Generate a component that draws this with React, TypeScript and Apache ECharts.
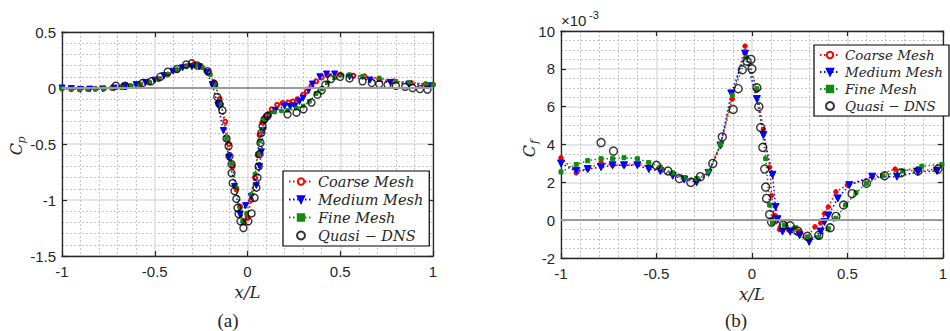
import React, { useEffect, useRef } from "react";
import * as echarts from "echarts";

// ---- Pressure coefficient Cp along x/L ----
const cpCoarseX = [-1.0, -0.95, -0.905, -0.86, -0.82, -0.775, -0.73, -0.68, -0.63, -0.58, -0.53, -0.48, -0.43, -0.38, -0.33, -0.29, -0.25, -0.21, -0.18, -0.15, -0.12, -0.1, -0.08, -0.06, -0.04, -0.02, 0.0, 0.02, 0.04, 0.055, 0.065, 0.08, 0.1, 0.13, 0.16, 0.19, 0.22, 0.245, 0.27, 0.3, 0.32, 0.345, 0.37, 0.4, 0.43, 0.5, 0.57, 0.63, 0.71, 0.79, 0.88, 0.96, 1.0];
const cpCoarseY = [-0.005, -0.01, -0.012, -0.01, -0.008, -0.005, 0.0, 0.008, 0.018, 0.032, 0.05, 0.08, 0.12, 0.16, 0.195, 0.21, 0.19, 0.14, 0.05, -0.1, -0.3, -0.5, -0.7, -0.9, -1.06, -1.2, -1.16, -1.0, -0.8, -0.6, -0.42, -0.31, -0.25, -0.19, -0.15, -0.135, -0.13, -0.12, -0.1, -0.06, -0.03, 0.02, 0.06, 0.095, 0.115, 0.12, 0.11, 0.105, 0.08, 0.06, 0.045, 0.035, 0.03];

const cpMediumX = [-1.0, -0.95, -0.9, -0.85, -0.78, -0.72, -0.66, -0.6, -0.55, -0.5, -0.45, -0.4, -0.35, -0.3, -0.26, -0.22, -0.19, -0.16, -0.13, -0.1, -0.07, -0.04, -0.01, 0.02, 0.048, 0.065, 0.075, 0.085, 0.097, 0.12, 0.15, 0.2, 0.23, 0.255, 0.28, 0.3, 0.33, 0.35, 0.39, 0.426, 0.47, 0.55, 0.66, 0.77, 0.87, 0.98];
const cpMediumY = [0.0, -0.005, -0.012, -0.01, -0.008, 0.0, 0.015, 0.03, 0.05, 0.07, 0.11, 0.15, 0.18, 0.19, 0.19, 0.14, 0.03, -0.15, -0.38, -0.62, -0.88, -1.13, -1.05, -0.97, -0.87, -0.7, -0.57, -0.38, -0.29, -0.24, -0.2, -0.16, -0.165, -0.16, -0.12, -0.09, -0.02, 0.035, 0.1, 0.125, 0.125, 0.1, 0.07, 0.05, 0.035, 0.02];

const cpFineX = [-1.0, -0.95, -0.905, -0.86, -0.82, -0.775, -0.73, -0.68, -0.63, -0.58, -0.53, -0.48, -0.43, -0.38, -0.33, -0.28, -0.24, -0.2, -0.17, -0.14, -0.113, -0.085, -0.06, -0.04, -0.027, -0.005, 0.02, 0.04, 0.054, 0.065, 0.08, 0.092, 0.12, 0.146, 0.183, 0.216, 0.264, 0.3, 0.334, 0.37, 0.4, 0.43, 0.47, 0.507, 0.55, 0.62, 0.71, 0.8, 0.87, 0.965, 1.0];
const cpFineY = [-0.005, -0.01, -0.012, -0.01, -0.008, -0.005, 0.0, 0.008, 0.018, 0.032, 0.05, 0.08, 0.12, 0.16, 0.19, 0.2, 0.18, 0.12, 0.02, -0.15, -0.45, -0.68, -0.89, -1.07, -1.19, -1.12, -0.95, -0.77, -0.59, -0.47, -0.37, -0.28, -0.23, -0.215, -0.205, -0.2, -0.18, -0.16, -0.12, -0.05, -0.01, 0.045, 0.09, 0.115, 0.12, 0.105, 0.09, 0.06, 0.05, 0.035, 0.03];

const cpDnsX = [-0.71, -0.66, -0.565, -0.52, -0.47, -0.43, -0.38, -0.33, -0.3, -0.27, -0.215, -0.18, -0.163, -0.152, -0.135, -0.113, -0.102, -0.097, -0.086, -0.086, -0.08, -0.07, -0.06, -0.054, -0.048, -0.038, -0.022, 0.005, 0.022, 0.038, 0.048, 0.054, 0.06, 0.065, 0.07, 0.075, 0.081, 0.092, 0.108, 0.216, 0.264, 0.302, 0.345, 0.377, 0.4, 0.42, 0.45, 0.5, 0.55, 0.62, 0.67, 0.71, 0.755, 0.8, 0.85, 0.89, 0.93, 0.97];
const cpDnsY = [0.02, 0.02, 0.045, 0.06, 0.1, 0.145, 0.17, 0.21, 0.22, 0.2, 0.15, 0.035, -0.08, -0.14, -0.2, -0.45, -0.52, -0.61, -0.68, -0.76, -0.85, -0.92, -0.99, -1.07, -1.125, -1.19, -1.25, -1.19, -1.12, -0.98, -0.89, -0.8, -0.7, -0.59, -0.49, -0.4, -0.34, -0.28, -0.25, -0.235, -0.22, -0.19, -0.13, -0.06, -0.02, 0.03, 0.08, 0.1, 0.085, 0.06, 0.045, 0.035, 0.03, 0.02, 0.01, 0.0, -0.01, -0.015];

// ---- Skin friction coefficient Cf (x 10^-3) along x/L ----
const cfCoarseX = [-1.0, -0.92, -0.86, -0.79, -0.73, -0.67, -0.6, -0.54, -0.48, -0.415, -0.355, -0.29, -0.227, -0.165, -0.103, -0.036, 0.026, 0.06, 0.093, 0.103, 0.118, 0.144, 0.19, 0.247, 0.29, 0.33, 0.36, 0.38, 0.4, 0.44, 0.5, 0.63, 0.75, 0.87, 0.97];
const cfCoarseY = [3.3, 2.5, 2.7, 3.05, 2.9, 2.9, 2.95, 2.85, 2.7, 2.45, 2.2, 2.1, 2.55, 3.95, 6.4, 9.2, 6.9, 4.8, 2.8, 1.3, 0.25, -0.5, -0.5, -0.6, -0.9, -0.35, -0.15, 0.35, 0.7, 1.5, 1.85, 2.3, 2.7, 2.6, 2.7];

const cfMediumX = [-1.0, -0.92, -0.86, -0.79, -0.73, -0.67, -0.6, -0.54, -0.48, -0.415, -0.355, -0.29, -0.227, -0.165, -0.108, -0.036, 0.026, 0.06, 0.108, 0.124, 0.134, 0.16, 0.2, 0.25, 0.3, 0.36, 0.38, 0.4, 0.45, 0.51, 0.63, 0.76, 0.87, 0.97];
const cfMediumY = [3.0, 2.6, 2.7, 2.8, 2.9, 2.9, 2.9, 2.7, 2.6, 2.35, 2.15, 2.0, 2.5, 3.95, 6.7, 8.8, 6.4, 4.5, 2.4, 0.7, 0.05, -0.6, -0.6, -0.8, -1.15, -0.6, -0.1, 0.25, 1.15, 1.85, 2.3, 2.3, 2.55, 2.6];

const cfFineX = [-1.0, -0.92, -0.86, -0.79, -0.73, -0.67, -0.6, -0.54, -0.48, -0.415, -0.355, -0.29, -0.227, -0.165, -0.103, -0.03, 0.026, 0.072, 0.093, 0.108, 0.17, 0.23, 0.29, 0.35, 0.4, 0.44, 0.49, 0.545, 0.6, 0.685, 0.79, 0.89, 0.995];
const cfFineY = [2.55, 2.95, 3.15, 3.25, 3.25, 3.3, 3.25, 3.05, 2.8, 2.5, 2.25, 2.2, 2.55, 4.0, 6.6, 8.6, 6.95, 3.25, 0.8, -0.15, -0.25, -0.4, -0.9, -0.9, -0.45, 0.1, 0.8, 1.45, 1.95, 2.35, 2.6, 2.85, 2.95];

const cfDnsX = [-0.79, -0.725, -0.5, -0.44, -0.38, -0.32, -0.27, -0.205, -0.155, -0.098, -0.072, -0.05, -0.025, -0.005, 0.0, 0.026, 0.036, 0.046, 0.057, 0.067, 0.072, 0.077, 0.093, 0.103, 0.165, 0.2, 0.24, 0.29, 0.35, 0.41, 0.44, 0.48, 0.525, 0.6, 0.695, 0.78, 0.87, 0.975];
const cfDnsY = [4.1, 3.65, 2.9, 2.6, 2.2, 2.0, 2.3, 3.0, 4.4, 5.85, 6.95, 7.95, 8.4, 8.5, 8.0, 7.0, 6.0, 4.9, 3.85, 2.7, 1.75, 1.15, 0.3, -0.1, -0.26, -0.3, -0.58, -0.85, -0.8, -0.4, 0.2, 0.8, 1.4, 1.95, 2.35, 2.5, 2.6, 2.7];

const seriesNames = ["Coarse Mesh", "Medium Mesh", "Fine Mesh", "Quasi \u2212 DNS"];
const xTicks = { min: -1, max: 1, interval: 0.5 };
const cpTicks = { min: -1.5, max: 0.5, interval: 0.5 };
const cfTicks = { min: -2, max: 10, interval: 2 };

const RED = "#ff0000";
const BLUE = "#0000ff";
const GREEN = "#128a12";
const INK = "#262626";
const SANS = "Liberation Sans";
const SERIF = "DejaVu Serif";
const DOWN_TRIANGLE = "path://M0,0L10,0L5,9Z";

const zip = (xs: number[], ys: number[]) => xs.map((x, i) => [x, ys[i]]);

const frameLine = { show: true, onZero: false, lineStyle: { color: INK, width: 1.3 } };
const innerTick = { show: true, inside: true, length: 5, lineStyle: { color: INK, width: 1.2 } };
const minorGrid = { show: true, lineStyle: { color: "#c4c4c4", type: [2, 2], width: 1 } };
const majorGrid = { show: true, lineStyle: { color: "#dedede", width: 1.5 } };
const tickFont = { fontFamily: SANS, fontSize: 15, color: INK };

function bottomAxis(gridIndex: number) {
  return {
    type: "value", gridIndex, position: "bottom", ...xTicks,
    axisLine: frameLine, axisTick: innerTick,
    axisLabel: { ...tickFont, margin: 8 },
    splitLine: majorGrid,
    minorTick: { show: false, splitNumber: 5 },
    minorSplitLine: minorGrid,
    name: "x/L", nameLocation: "middle", nameGap: 27,
    nameTextStyle: { fontFamily: SERIF, fontStyle: "italic", fontSize: 16.5, color: INK },
  };
}
function topAxis(gridIndex: number) {
  return {
    type: "value", gridIndex, position: "top", ...xTicks,
    axisLine: frameLine, axisTick: innerTick,
    axisLabel: { show: false }, splitLine: { show: false },
  };
}
function leftAxis(gridIndex: number, ticks: any, minorSplit: number) {
  return {
    type: "value", gridIndex, position: "left", ...ticks,
    axisLine: frameLine, axisTick: innerTick,
    axisLabel: { ...tickFont, margin: 6 },
    splitLine: majorGrid,
    minorTick: { show: false, splitNumber: minorSplit },
    minorSplitLine: minorGrid,
  };
}
function rightAxis(gridIndex: number, ticks: any) {
  return {
    type: "value", gridIndex, position: "right", ...ticks,
    axisLine: frameLine, axisTick: innerTick,
    axisLabel: { show: false }, splitLine: { show: false },
  };
}

function simSeries(name: string, data: number[][], color: string, symbol: string, size: number, axis: number) {
  return {
    type: "line", name, data, xAxisIndex: axis, yAxisIndex: axis,
    symbol, symbolSize: size, showSymbol: true, color,
    lineStyle: { color, width: 1.5, type: [1.5, 2.5] },
    itemStyle: { color, borderColor: color, borderWidth: 1 },
    z: 3,
  };
}
function dnsSeries(data: number[][], axis: number, size: number) {
  return {
    type: "scatter", name: seriesNames[3], data, xAxisIndex: axis, yAxisIndex: axis,
    symbol: "circle", symbolSize: size,
    itemStyle: { color: "rgba(0,0,0,0)", borderColor: "#000", borderWidth: 1.4 },
    z: 4,
  };
}
function zeroLine(axis: number) {
  return {
    type: "line", name: "zero", data: [], xAxisIndex: axis, yAxisIndex: axis, z: 2,
    markLine: {
      silent: true, symbol: "none", label: { show: false },
      lineStyle: { color: "#9a9a9a", width: 2, type: "solid" },
      data: [{ yAxis: 0 }],
    },
  };
}
function legendBox(left: number, top: number, fontSize: number, itemWidth: number, lineHeight: number) {
  const face = { fontFamily: SERIF, fontStyle: "italic", fontSize, color: INK, lineHeight };
  return {
    left, top, orient: "vertical", data: seriesNames, selectedMode: false,
    backgroundColor: "#fff", borderColor: "#000", borderWidth: 1.2,
    padding: [2, 6, 2, 5], itemGap: 1, itemWidth, itemHeight: 8,
    formatter: (name: string) => `{t|${name}}`,
    textStyle: { ...face, rich: { t: face } },
  };
}
function subscriptLabel(x: number, y: number, main: string, sub: string) {
  return {
    type: "group", x, y, rotation: Math.PI / 2,
    children: [
      { type: "text", x: -4, y: 0, style: { text: main, fontFamily: SERIF, fontStyle: "italic", fontSize: 16, fill: INK, align: "center", verticalAlign: "middle" } },
      { type: "text", x: 5, y: 5, style: { text: sub, fontFamily: SERIF, fontStyle: "italic", fontSize: 11, fill: INK, align: "center", verticalAlign: "middle" } },
    ],
  };
}

const option: any = {
  animation: false,
  backgroundColor: "#fff",
  grid: [
    { left: 62, top: 32, width: 371, height: 224 },
    { left: 561, top: 31, width: 388, height: 227 },
  ],
  xAxis: [bottomAxis(0), bottomAxis(1), topAxis(0), topAxis(1)],
  yAxis: [leftAxis(0, cpTicks, 5), leftAxis(1, cfTicks, 4), rightAxis(0, cpTicks), rightAxis(1, cfTicks)],
  legend: [legendBox(283, 171, 14.5, 24, 17), legendBox(814, 45, 13.5, 20, 16)],
  series: [
    zeroLine(0),
    simSeries(seriesNames[0], zip(cpCoarseX, cpCoarseY), RED, "emptyCircle", 4, 0),
    simSeries(seriesNames[1], zip(cpMediumX, cpMediumY), BLUE, DOWN_TRIANGLE, 6, 0),
    simSeries(seriesNames[2], zip(cpFineX, cpFineY), GREEN, "rect", 3.5, 0),
    dnsSeries(zip(cpDnsX, cpDnsY), 0, 7),
    zeroLine(1),
    simSeries(seriesNames[0], zip(cfCoarseX, cfCoarseY), RED, "circle", 4.5, 1),
    simSeries(seriesNames[1], zip(cfMediumX, cfMediumY), BLUE, DOWN_TRIANGLE, 7, 1),
    simSeries(seriesNames[2], zip(cfFineX, cfFineY), GREEN, "rect", 4, 1),
    dnsSeries(zip(cfDnsX, cfDnsY), 1, 8),
  ],
  graphic: [
    subscriptLabel(16, 145, "C", "p"),
    subscriptLabel(529, 147, "C", "f"),
    { type: "text", x: 561, y: 13, style: { text: "\u00d710", fontFamily: SANS, fontSize: 15, fill: INK, verticalAlign: "top" } },
    { type: "text", x: 589, y: 9, style: { text: "-3", fontFamily: SANS, fontSize: 11, fill: INK, verticalAlign: "top" } },
    { type: "text", x: 228, y: 320, style: { text: "(a)", fontFamily: "Liberation Serif", fontSize: 19, fill: INK, align: "center", verticalAlign: "middle" } },
    { type: "text", x: 736, y: 320, style: { text: "(b)", fontFamily: "Liberation Serif", fontSize: 19, fill: INK, align: "center", verticalAlign: "middle" } },
  ],
};

export default function App() {
  const ref = useRef<HTMLDivElement>(null);
  useEffect(() => {
    const chart = echarts.init(ref.current!, null, { renderer: "svg" });
    chart.setOption(option);
    return () => chart.dispose();
  }, []);
  return <div ref={ref} style={{ position: "absolute", left: 0, top: 0, width: 950, height: 331 }} />;
}
